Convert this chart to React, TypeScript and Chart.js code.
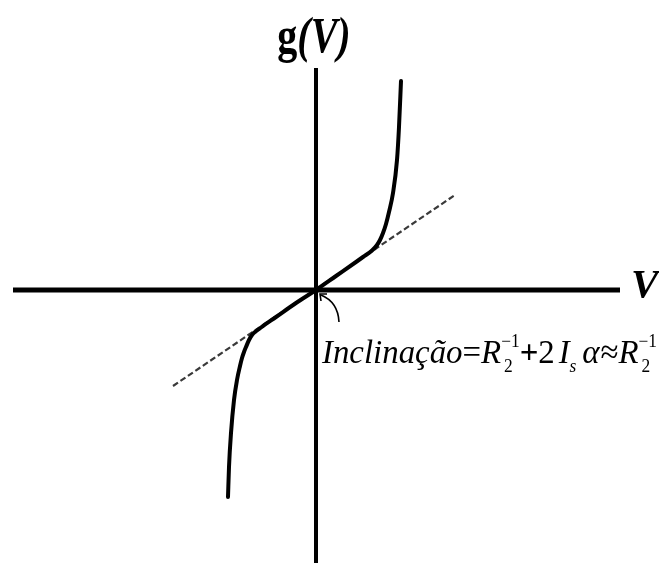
import React, { useEffect, useRef } from "react";
import { Chart, registerables } from "chart.js";

Chart.register(...registerables);

// Characteristic g(V): odd, nearly linear around the origin, steep at both ends
const curveV = [
  -88, -87, -85, -82, -79, -76, -74, -72, -70, -67, -64, -61, -55, -40, -20,
  0, 20, 40, 47, 56, 61, 64, 67, 70, 73, 77, 81, 83, 85,
];
const curveG = [
  -207, -177, -143, -110, -90, -76, -68, -62, -57, -50, -45, -42, -37.5, -27, -13,
  0, 14, 28, 33, 39.5, 45, 50, 57, 66, 78, 97, 130, 163, 209,
];

// Tangent at the origin (dashed)
const tangentV = [-143, 139];
const tangentG = [-96, 95];

// Visible extent of the two axes and of the plotting window
const vAxisExtent = [-303, 304];
const gAxisExtent = [-273, 222];
const vWindow = [-316, 343];
const gWindow = [-273, 290];

const yTitle = "g(V)";
const xTitle = "V";

const SERIF = '"Liberation Serif", "DejaVu Serif", "Times New Roman", serif';

type Part = { text: string; style: string; sup?: string; sub?: string; subStyle?: string; gap?: number };

// Inclinação = R2^-1 + 2 Is α ≈ R2^-1
const slopeParts: Part[] = [
  { text: "Inclinação", style: "italic" },
  { text: "=", style: "normal" },
  { text: "R", style: "italic", sup: "−1", sub: "2" },
  { text: "+", style: "bold" },
  { text: "2", style: "normal" },
  { text: "I", style: "italic", sub: "s", subStyle: "italic", gap: 4 },
  { text: "α", style: "italic", gap: 6 },
  { text: "≈", style: "normal", gap: 1 },
  { text: "R", style: "italic", sup: "−1", sub: "2" },
];

const axesPlugin = {
  id: "crossAxes",
  beforeDatasetsDraw(chart: Chart) {
    const { ctx } = chart;
    const xs = chart.scales.x;
    const ys = chart.scales.y;
    const x0 = xs.getPixelForValue(0);
    const y0 = ys.getPixelForValue(0);
    ctx.save();
    ctx.strokeStyle = "#000";
    ctx.lineCap = "butt";
    ctx.lineWidth = 5;
    ctx.beginPath();
    ctx.moveTo(xs.getPixelForValue(vAxisExtent[0]), y0);
    ctx.lineTo(xs.getPixelForValue(vAxisExtent[1]), y0);
    ctx.stroke();
    ctx.lineWidth = 4;
    ctx.beginPath();
    ctx.moveTo(x0, ys.getPixelForValue(gAxisExtent[1]));
    ctx.lineTo(x0, ys.getPixelForValue(gAxisExtent[0]));
    ctx.stroke();
    ctx.restore();
  },
  afterDraw(chart: Chart) {
    const { ctx } = chart;
    const xs = chart.scales.x;
    const ys = chart.scales.y;
    const x0 = xs.getPixelForValue(0);
    const y0 = ys.getPixelForValue(0);
    const xEnd = xs.getPixelForValue(vAxisExtent[1]);
    const yTop = ys.getPixelForValue(gAxisExtent[1]);

    ctx.save();
    ctx.fillStyle = "#000";
    ctx.textBaseline = "alphabetic";
    ctx.textAlign = "left";

    // axis title on the horizontal axis
    ctx.font = `italic bold 41px ${SERIF}`;
    ctx.fillText(xTitle, xEnd + 11, y0 + 7);

    // axis title above the vertical axis (condensed)
    const sx = 0.8;
    ctx.font = `bold 50px ${SERIF}`;
    const gW = ctx.measureText(yTitle[0]).width;
    ctx.font = `italic bold 50px ${SERIF}`;
    const restW = ctx.measureText(yTitle.slice(1)).width;
    const total = (gW + restW) * sx;
    ctx.save();
    ctx.translate(x0 - 2 - total / 2, yTop - 16);
    ctx.scale(sx, 1);
    ctx.font = `bold 50px ${SERIF}`;
    ctx.fillText(yTitle[0], 0, 0);
    ctx.font = `italic bold 50px ${SERIF}`;
    ctx.fillText(yTitle.slice(1), gW, 0);
    ctx.restore();

    // small curved arrow pointing at the origin
    ctx.strokeStyle = "#000";
    ctx.lineWidth = 1.6;
    ctx.beginPath();
    ctx.moveTo(x0 + 23, y0 + 32);
    ctx.quadraticCurveTo(x0 + 22, y0 + 12, x0 + 5, y0 + 5);
    ctx.stroke();
    ctx.beginPath();
    ctx.moveTo(x0 + 5, y0 + 11);
    ctx.lineTo(x0 + 4, y0 + 4);
    ctx.lineTo(x0 + 11, y0 + 4);
    ctx.stroke();

    // slope annotation
    const F = 34;
    const f = 18;
    const fontOf = (style: string, size: number) =>
      `${style === "italic" ? "italic " : style === "bold" ? "bold " : ""}${size}px ${SERIF}`;
    const layout: { s: string; font: string; x: number; dy: number }[] = [];
    let cx = 0;
    for (const p of slopeParts) {
      cx += p.gap || 0;
      ctx.font = fontOf(p.style, F);
      layout.push({ s: p.text, font: ctx.font, x: cx, dy: 0 });
      cx += ctx.measureText(p.text).width;
      let adv = 0;
      if (p.sup) {
        ctx.font = fontOf("normal", f);
        layout.push({ s: p.sup, font: ctx.font, x: cx, dy: -16 });
        adv = Math.max(adv, ctx.measureText(p.sup).width);
      }
      if (p.sub) {
        ctx.font = fontOf(p.subStyle || "normal", f);
        layout.push({ s: p.sub, font: ctx.font, x: cx + (p.sup ? 3 : 0), dy: 9 });
        adv = Math.max(adv, ctx.measureText(p.sub).width + (p.sup ? 3 : 0));
      }
      cx += adv;
    }
    const targetW = 335;
    const k = targetW / cx;
    ctx.save();
    ctx.translate(x0 + 6, y0 + 73);
    ctx.scale(k, 1);
    for (const it of layout) {
      ctx.font = it.font;
      ctx.fillText(it.s, it.x, it.dy);
    }
    ctx.restore();

    ctx.restore();
  },
};

export default function App() {
  const canvasRef = useRef<HTMLCanvasElement | null>(null);

  useEffect(() => {
    const canvas = canvasRef.current;
    if (!canvas) return;
    const chart = new Chart(canvas, {
      type: "line",
      data: {
        datasets: [
          {
            label: "g(V)",
            data: curveV.map((v, i) => ({ x: v, y: curveG[i] })),
            borderColor: "#000",
            borderWidth: 4,
            pointRadius: 0,
            cubicInterpolationMode: "monotone",
            fill: false,
            clip: false,
            order: 0,
            borderCapStyle: "round",
            borderJoinStyle: "round",
          },
          {
            label: "tangent",
            data: tangentV.map((v, i) => ({ x: v, y: tangentG[i] })),
            borderColor: "#3a3a3a",
            borderWidth: 2.2,
            borderDash: [6, 3],
            pointRadius: 0,
            fill: false,
            clip: false,
            order: 1,
          },
        ],
      },
      options: {
        animation: false,
        responsive: false,
        maintainAspectRatio: false,
        layout: { padding: 0 },
        plugins: { legend: { display: false }, tooltip: { enabled: false }, title: { display: false } },
        scales: {
          x: { type: "linear", min: vWindow[0], max: vWindow[1], display: false },
          y: { type: "linear", min: gWindow[0], max: gWindow[1], display: false },
        },
      },
      plugins: [axesPlugin],
    });
    return () => chart.destroy();
  }, []);

  return (
    <div style={{ position: "fixed", left: 0, top: 0, width: 659, height: 563, background: "#fff" }}>
      <canvas ref={canvasRef} width={659} height={563} style={{ display: "block" }} />
    </div>
  );
}
